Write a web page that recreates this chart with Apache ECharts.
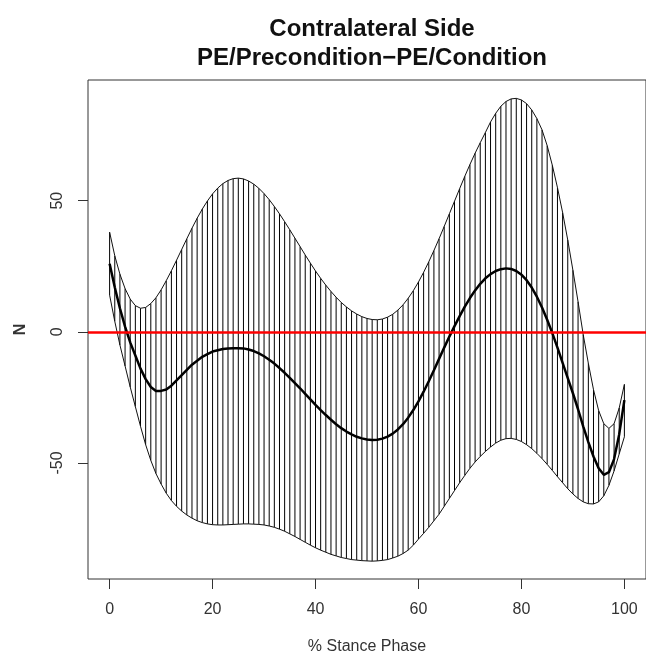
<!DOCTYPE html>
<html><head><meta charset="utf-8">
<script src="https://cdn.jsdelivr.net/npm/echarts@6/dist/echarts.min.js"></script>
<style>html,body{margin:0;padding:0;background:#fff}#c{width:646px;height:660px}</style>
</head><body><div id="c"></div>
<script>
const titleLines = ["Contralateral Side", "PE/Precondition\u2212PE/Condition"];
const xLabel = "% Stance Phase";
const yLabel = "N";
const xTicks = [0, 20, 40, 60, 80, 100];
const yTicks = [-50, 0, 50];
const stance = Array.from({length: 101}, (_, i) => i);
const meanVals = [26,17,9,2,-4,-9,-14,-18,-21,-22.5,-22.5,-22,-20.5,-18.5,-16.5,-14.5,-12.5,-11,-9.5,-8.5,-7.5,-7,-6.5,-6.3,-6.2,-6.2,-6.3,-6.7,-7.3,-8.2,-9.3,-10.6,-12.1,-13.8,-15.6,-17.5,-19.5,-21.5,-23.6,-25.7,-27.8,-29.8,-31.7,-33.5,-35.2,-36.7,-38,-39.1,-40,-40.6,-41,-41.2,-41.1,-40.7,-39.9,-38.8,-37.2,-35.2,-32.7,-29.8,-26.5,-22.8,-18.8,-14.6,-10.3,-6,-1.8,2.2,6,9.6,12.9,15.8,18.3,20.4,22,23.2,23.9,24.2,24,23.2,21.8,19.7,16.9,13.4,9.3,4.6,-0.5,-6,-11.8,-17.6,-23.4,-29.5,-36,-42,-47.5,-52,-54.5,-53.5,-48.5,-39,-26];
const upperVals = [38,29,22,16.5,12.5,10,9,9.3,10.8,13,16,19.5,23.3,27.3,31.4,35.5,39.5,43.3,46.8,49.9,52.6,54.8,56.5,57.7,58.4,58.6,58.3,57.5,56.3,54.7,52.7,50.4,47.8,45,42,38.9,35.7,32.5,29.3,26.2,23.2,20.4,17.8,15.4,13.2,11.2,9.5,8,6.8,5.8,5.1,4.7,4.6,4.9,5.6,6.7,8.3,10.3,12.8,15.7,19,22.7,26.7,31,35.5,40.2,45,49.8,54.6,59.3,63.8,68.1,72.1,76,80,83.3,86,87.8,88.8,89,88.4,87,84.6,81.3,77,71,63.5,55,45.5,35,23.5,11.5,-1,-12,-22,-30,-35,-36.8,-35,-29,-20,-8];
const lowerVals = [14,4,-5,-13,-21,-28.5,-36,-43,-49,-54,-58,-61.5,-64.3,-66.5,-68.3,-69.8,-71,-72,-72.7,-73.2,-73.5,-73.6,-73.6,-73.5,-73.4,-73.3,-73.2,-73.2,-73.3,-73.4,-73.6,-74,-74.5,-75.2,-76,-77,-78,-79.1,-80.2,-81.3,-82.3,-83.2,-84,-84.8,-85.4,-86,-86.4,-86.8,-87,-87.2,-87.3,-87.4,-87.3,-87.1,-86.8,-86.2,-85.5,-84.5,-83.2,-81.3,-79,-76.8,-74.5,-72,-69.5,-66.5,-63.5,-60.5,-57.5,-54.7,-52,-49.6,-47.5,-45.6,-43.9,-42.4,-41.3,-40.7,-40.6,-41,-41.8,-43,-44.5,-46.3,-48.3,-50.5,-52.8,-55.2,-57.5,-59.8,-61.8,-63.5,-64.8,-65.5,-65.6,-64.8,-62.5,-58.5,-53,-46.5,-40];
const refLine = 0;

const chart = echarts.init(document.getElementById('c'), null, {renderer: 'canvas'});
const pair = (arr) => stance.map((x, i) => [x, arr[i]]);
const hatch = stance.map((x, i) => [x, lowerVals[i], upperVals[i]]);
const FONT = 'Liberation Sans, Arial, sans-serif';

chart.setOption({
  animation: false,
  backgroundColor: '#ffffff',
  title: {
    text: titleLines.join('\n'),
    left: 367, top: 10, textAlign: 'center',
    textStyle: {fontFamily: FONT, fontWeight: 'bold', fontSize: 24, color: '#111', lineHeight: 29}
  },
  grid: {left: 88, top: 80, width: 559, height: 502, show: true, borderColor: '#333', borderWidth: 1, backgroundColor: 'transparent'},
  xAxis: {
    type: 'value', min: -4.2, max: 104.2,
    name: xLabel, nameLocation: 'middle', nameGap: 60,
    nameTextStyle: {fontFamily: FONT, fontSize: 16, color: '#333'},
    axisLine: {show: false, onZero: false},
    axisTick: {show: true, length: 10, inside: false, customValues: xTicks, lineStyle: {color: '#333'}},
    axisLabel: {customValues: xTicks, margin: 23, fontFamily: FONT, fontSize: 16, color: '#333'},
    splitLine: {show: false}
  },
  yAxis: {
    type: 'value', min: -94.2, max: 96,
    name: yLabel, nameLocation: 'middle', nameGap: 59, nameRotate: 90,
    nameTextStyle: {fontFamily: FONT, fontSize: 16, color: '#333', fontWeight: 'bold'},
    axisLine: {show: false, onZero: false},
    axisTick: {show: true, length: 10, customValues: yTicks, lineStyle: {color: '#333'}},
    axisLabel: {customValues: yTicks, rotate: 90, margin: 22, fontFamily: FONT, fontSize: 16, color: '#333'},
    splitLine: {show: false}
  },
  series: [
    {
      type: 'custom', name: 'hatch', data: hatch, clip: true, z: 2,
      renderItem: function (params, api) {
        const x = api.value(0);
        const p1 = api.coord([x, api.value(1)]);
        const p2 = api.coord([x, api.value(2)]);
        return {type: 'line', shape: {x1: p1[0], y1: p1[1], x2: p2[0], y2: p2[1]}, style: {stroke: '#000', lineWidth: 1}};
      }
    },
    {type: 'line', name: 'upper', data: pair(upperVals), showSymbol: false, smooth: false, lineStyle: {color: '#111', width: 1}, z: 3},
    {type: 'line', name: 'lower', data: pair(lowerVals), showSymbol: false, smooth: false, lineStyle: {color: '#111', width: 1}, z: 3},
    {type: 'line', name: 'mean', data: pair(meanVals), showSymbol: false, smooth: false, lineStyle: {color: '#000', width: 2.5}, z: 4,
      markLine: {silent: true, symbol: ['none', 'none'], label: {show: false}, lineStyle: {color: '#ff0000', width: 2.5, type: 'solid'}, data: [{yAxis: refLine}]}}
  ]
});
</script></body></html>
